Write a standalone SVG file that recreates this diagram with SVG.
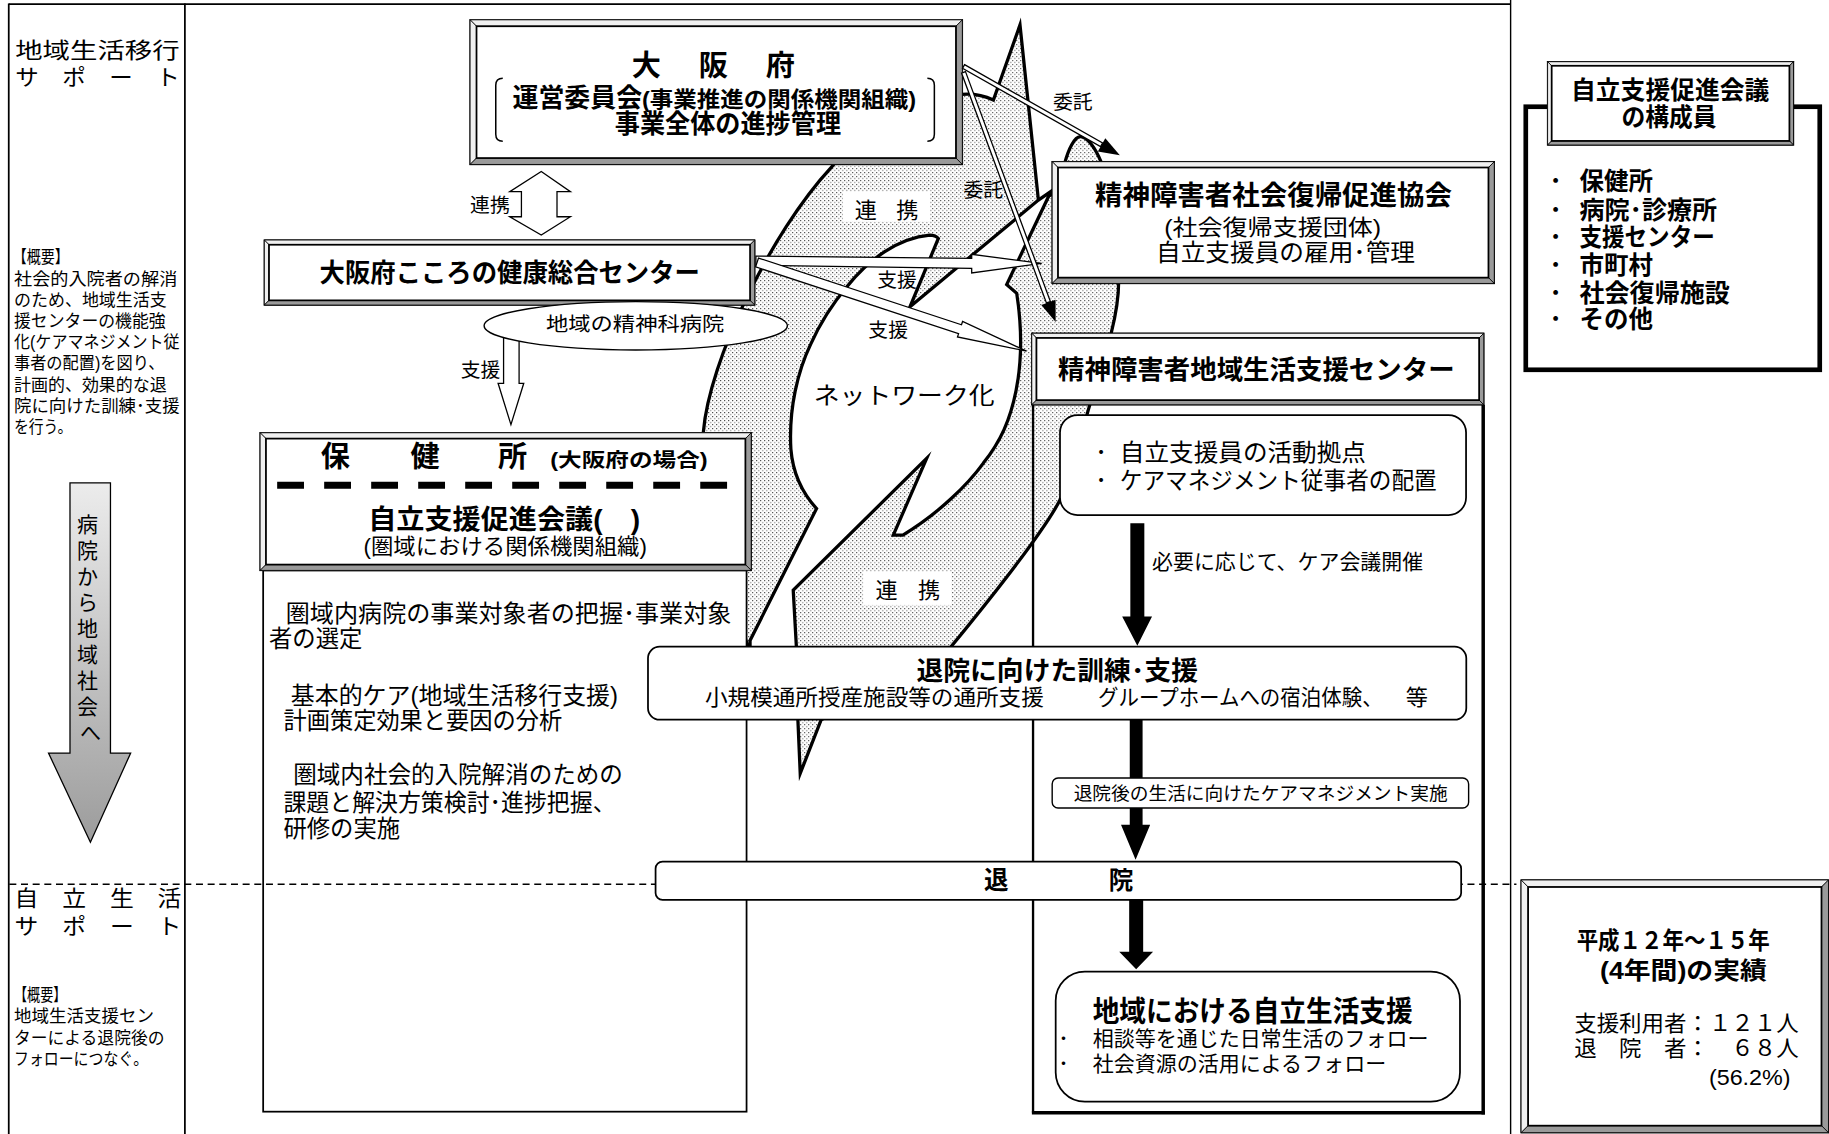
<svg xmlns="http://www.w3.org/2000/svg" width="1829" height="1134" viewBox="0 0 1829 1134">
<defs>
<style>
.t{font-family:"Liberation Sans","Noto Sans CJK JP",sans-serif;fill:#000}
.b{font-weight:bold}
.fr{stroke:#000;stroke-width:1.5;fill:none}
.bx{fill:#fff;stroke:#000;stroke-width:1.2}
.lt{fill:#f0f0f0;stroke:#000;stroke-width:0.7}
.dk{fill:#9a9a9a;stroke:#000;stroke-width:0.7}
.in{fill:#fff;stroke:#000;stroke-width:1.5}
.rb{fill:#fff;stroke:#000;stroke-width:1.5}
.ha{fill:#fff;stroke:#000;stroke-width:1.1}
.blk{fill:#000}
.net{stroke:#000;stroke-width:2.8;stroke-linejoin:miter;stroke-miterlimit:10}
</style>
<pattern id="dots" patternUnits="userSpaceOnUse" width="3.43" height="3.43">
<rect width="3.43" height="3.43" fill="#fff"/>
<rect x="0" y="0" width="0.86" height="0.86" fill="#333"/>
<rect x="1.715" y="1.715" width="0.86" height="0.86" fill="#333"/>
</pattern>
<linearGradient id="ag" x1="0" y1="0" x2="0" y2="1">
<stop offset="0" stop-color="#ececec"/>
<stop offset="1" stop-color="#9c9c9c"/>
</linearGradient>
</defs>
<rect width="1829" height="1134" fill="#fff"/>
<g transform="scale(1.1665)">

<g id="frame">
<line class="fr" x1="7.5" y1="3.5" x2="1295" y2="3.5"/>
<line class="fr" x1="7.5" y1="3" x2="7.5" y2="975"/>
<line class="fr" x1="158.5" y1="3" x2="158.5" y2="975"/>
<line class="fr" x1="1295" y1="0" x2="1295" y2="975" style="stroke-width:1.2"/>
</g>

<g id="left-column">
<text class="t" x="13" y="50" font-size="19" textLength="141" lengthAdjust="spacingAndGlyphs">地域生活移行</text>
<text class="t" x="13" y="72.5" font-size="19" textLength="141" lengthAdjust="spacingAndGlyphs">サ　ポ　ー　ト</text>
<text class="t" x="11" y="225.7" font-size="15" textLength="48" lengthAdjust="spacingAndGlyphs">【概要】</text>
<text class="t" x="12" y="243.9" font-size="15" textLength="140" lengthAdjust="spacingAndGlyphs">社会的入院者の解消</text>
<text class="t" x="12" y="262.1" font-size="15" textLength="131" lengthAdjust="spacingAndGlyphs">のため、地域生活支</text>
<text class="t" x="12" y="280.3" font-size="15" textLength="130" lengthAdjust="spacingAndGlyphs">援センターの機能強</text>
<text class="t" x="12" y="298.5" font-size="15" textLength="142" lengthAdjust="spacingAndGlyphs">化(ケアマネジメント従</text>
<text class="t" x="12" y="316.7" font-size="15" textLength="129" lengthAdjust="spacingAndGlyphs">事者の配置)を図り、</text>
<text class="t" x="12" y="334.9" font-size="15" textLength="131" lengthAdjust="spacingAndGlyphs">計画的、効果的な退</text>
<text class="t" x="12" y="353.1" font-size="15" textLength="142" lengthAdjust="spacingAndGlyphs">院に向けた訓練･支援</text>
<text class="t" x="12" y="371.3" font-size="15" textLength="50" lengthAdjust="spacingAndGlyphs">を行う。</text>
<polygon points="60,414 94.7,414 94.7,645.6 112,645.6 77.5,722 41.6,645.6 60,645.6" fill="url(#ag)" stroke="#000" stroke-width="1.1"/>
<text class="t" font-size="18" text-anchor="middle">
<tspan x="77.5" y="455.8">病</tspan>
<tspan x="77.5" y="478.1">院</tspan>
<tspan x="77.5" y="500.4">か</tspan>
<tspan x="77.5" y="522.7">ら</tspan>
<tspan x="77.5" y="545">地</tspan>
<tspan x="77.5" y="567.3">域</tspan>
<tspan x="77.5" y="589.6">社</tspan>
<tspan x="77.5" y="611.9">会</tspan>
<tspan x="77.5" y="634.2">へ</tspan>
</text>
<text class="t" x="12.5" y="777" font-size="19" textLength="143" lengthAdjust="spacingAndGlyphs">自　立　生　活</text>
<text class="t" x="12.5" y="801" font-size="19" textLength="143" lengthAdjust="spacingAndGlyphs">サ　ポ　ー　ト</text>
<text class="t" x="12" y="857.7" font-size="15" textLength="45" lengthAdjust="spacingAndGlyphs">【概要】</text>
<text class="t" x="12" y="876.2" font-size="15" textLength="120" lengthAdjust="spacingAndGlyphs">地域生活支援セン</text>
<text class="t" x="12" y="894.7" font-size="15" textLength="129" lengthAdjust="spacingAndGlyphs">ターによる退院後の</text>
<text class="t" x="12" y="913.2" font-size="15" textLength="115" lengthAdjust="spacingAndGlyphs">フォローにつなぐ。</text>
</g>

<g id="network">
<path class="net" fill="url(#dots)" d="M 740 110 L 824 81 Q 838 79.5 851.6 85.7 L 874.4 21.4 L 890.2 171.5 L 906 165 L 913 139 C 916 128 921 117.5 926 117.2 C 932 117 939 127 944 139 C 952 170 959 205 959 241 C 959 258 956 272 952.5 286 L 932.8 352 C 925 380 918 405 908.7 428.7 C 895 455 860 500 814 556 L 704 617 L 686 663 L 684 617 L 683 558 L 643 558 L 638 545 L 612 460 L 603 380 L 603 370 C 608 310 660 200 713 143 L 740 110 Z"/>
<path class="net" fill="#fff" d="M 726 245.8 C 745 222 770 204 797 201.5 Q 802 201.5 804.4 204.4 L 780.1 263 L 890.2 171.5 L 901 164 L 863 244 L 871.6 251.5 C 876 280 876 310 871 335 C 866 360 858 378 843 397 C 830 415 805 440 774 458.7 L 765.8 458.7 L 794.4 393 L 680 505.9 L 682.9 558 L 643 558 L 643 549 L 700 436 C 690 425 680 410 678 385 C 676 350 684 318 695 295 C 704 275 714 260 726 245.8 Z"/>
<rect x="722.7" y="164.3" width="74.6" height="25.7" fill="#fff"/>
<text class="t" font-size="19" text-anchor="middle"><tspan x="742.3" y="187">連</tspan><tspan x="777.9" y="187">携</tspan></text>
<rect x="740" y="490" width="75.8" height="28.6" fill="#fff"/>
<text class="t" font-size="19" text-anchor="middle"><tspan x="760" y="512.8">連</tspan><tspan x="796.5" y="512.8">携</tspan></text>
<text class="t" x="697.6" y="346" font-size="20" textLength="155" lengthAdjust="spacingAndGlyphs">ネットワーク化</text>
</g>

<g id="support-center-panel">
<line x1="885.6" y1="347" x2="885.6" y2="954" stroke="#000" stroke-width="2"/>
<line x1="1271.5" y1="347" x2="1271.5" y2="955.5" stroke="#000" stroke-width="3"/>
<line x1="884.6" y1="954" x2="1273" y2="954" stroke="#000" stroke-width="3"/>
</g>

<g id="osaka-pref">
<rect class="bx" x="403" y="17" width="422" height="124"/>
<polygon class="lt" points="403,17 825,17 819.5,22.5 408.5,22.5"/>
<polygon class="lt" points="403,17 408.5,22.5 408.5,135.5 403,141"/>
<polygon class="dk" points="825,17 825,141 819.5,135.5 819.5,22.5"/>
<polygon class="dk" points="403,141 825,141 819.5,135.5 408.5,135.5"/>
<rect class="in" x="408.5" y="22.5" width="411" height="113"/>
<text class="t b" font-size="25" text-anchor="middle"><tspan x="554" y="65.2">大</tspan><tspan x="611.6" y="65.2">阪</tspan><tspan x="669" y="65.2">府</tspan></text>
<text class="t b" x="439.4" y="91.4" font-size="22" textLength="111" lengthAdjust="spacingAndGlyphs">運営委員会</text>
<text class="t b" x="550.4" y="91.4" font-size="19" textLength="235" lengthAdjust="spacingAndGlyphs">(事業推進の関係機関組織)</text>
<text class="t b" x="527" y="114" font-size="22" textLength="194" lengthAdjust="spacingAndGlyphs">事業全体の進捗管理</text>
<path d="M 431 67 Q 425 67 425 73 L 425 115 Q 425 121 431 121" fill="none" stroke="#000" stroke-width="1.3"/>
<path d="M 795 67 Q 801 67 801 73 L 801 115 Q 801 121 795 121" fill="none" stroke="#000" stroke-width="1.3"/>
</g>

<g id="kokoro-center">
<rect class="bx" x="226.6" y="205.8" width="420.4" height="55.7"/>
<polygon class="lt" points="226.6,205.8 647,205.8 643,209.8 230.6,209.8"/>
<polygon class="lt" points="226.6,205.8 230.6,209.8 230.6,257.5 226.6,261.5"/>
<polygon class="dk" points="647,205.8 647,261.5 643,257.5 643,209.8"/>
<polygon class="dk" points="226.6,261.5 647,261.5 643,257.5 230.6,257.5"/>
<rect class="in" x="230.6" y="209.8" width="412.4" height="47.7"/>
<text class="t b" x="274" y="241.4" font-size="22" textLength="326" lengthAdjust="spacingAndGlyphs">大阪府こころの健康総合センター</text>
</g>

<g id="connectors">
<polygon class="ha" points="464,147 489,164.3 477.5,164.3 477.5,185.8 489,185.8 464,201.5 437,185.8 447,185.8 447,164.3 437,164.3"/>
<text class="t" x="403" y="182" font-size="17">連携</text>
<polygon class="ha" points="431.7,288 445,288 445,328.6 449,328.6 438,364 427,328.6 431.7,328.6"/>
<text class="t" x="395" y="323.5" font-size="17">支援</text>
<polygon class="ha" points="648,219.5 833,221.5 833,218 893,225.8 833,234 833,230 648,227.5"/>
<text class="t" x="752" y="246" font-size="17">支援</text>
<polygon class="ha" points="650.25,221.2 824.25,278.45 825.19,275.6 880,301 820.81,288.9 821.75,286.05 647.75,228.8"/>
<text class="t" x="744.4" y="289" font-size="17">支援</text>
<polygon class="ha" points="826.89,55.43 945.23,122.55 943.45,125.69 825.11,58.57"/>
<polygon class="blk" points="960,133 941.13,129.77 947.55,118.47"/>
<text class="t" x="902.6" y="93.2" font-size="17">委託</text>
<polygon class="ha" points="827.69,61.38 900.46,258.49 897.08,259.73 824.31,62.62"/>
<polygon class="blk" points="905,276 892.67,261.36 904.87,256.86"/>
<text class="t" x="826" y="169" font-size="17">委託</text>
<polygon class="blk" points="969,448.5 981,448.5 981,528.5 987.6,528.5 975,553.5 962,528.5 969,528.5"/>
<text class="t" x="987.6" y="488" font-size="18" textLength="232.4" lengthAdjust="spacingAndGlyphs">必要に応じて、ケア会議開催</text>
<polygon class="blk" points="968.5,617 979.5,617 979.5,707 986,707 973.5,737 961,707 968.5,707"/>
<polygon class="blk" points="968,771 980,771 980,816 988.5,816 974,831 959.5,816 968,816"/>
</g>

<g id="hospital-ellipse">
<ellipse cx="545" cy="279.3" rx="130" ry="20.7" fill="#fff" stroke="#000" stroke-width="1.2"/>
<text class="t" x="468" y="283.5" font-size="17" textLength="153" lengthAdjust="spacingAndGlyphs">地域の精神科病院</text>
</g>

<g id="hokenjo">
<rect class="rb" x="225.6" y="489" width="414.4" height="464"/>
<rect class="bx" x="223" y="371" width="421" height="118"/>
<polygon class="lt" points="223,371 644,371 639,376 228,376"/>
<polygon class="lt" points="223,371 228,376 228,484 223,489"/>
<polygon class="dk" points="644,371 644,489 639,484 639,376"/>
<polygon class="dk" points="223,489 644,489 639,484 228,484"/>
<rect class="in" x="228" y="376" width="411" height="108"/>
<text class="t b" font-size="25" text-anchor="middle"><tspan x="287.5" y="400.5">保</tspan><tspan x="364.5" y="400.5">健</tspan><tspan x="439.5" y="400.5">所</tspan></text>
<text class="t b" x="471.7" y="400.5" font-size="17" textLength="135" lengthAdjust="spacingAndGlyphs">(大阪府の場合)</text>
<line x1="237.6" y1="416" x2="623.3" y2="416" stroke="#000" stroke-width="6" stroke-dasharray="23 17.3"/>
<text class="t b" x="315.7" y="453.7" font-size="23" textLength="233" lengthAdjust="spacingAndGlyphs">自立支援促進会議(　)</text>
<text class="t" x="311.6" y="475" font-size="18.5" textLength="243" lengthAdjust="spacingAndGlyphs">(圏域における関係機関組織)</text>
<text class="t" x="245" y="533" font-size="20" textLength="382" lengthAdjust="spacingAndGlyphs">圏域内病院の事業対象者の把握･事業対象</text>
<text class="t" x="230.6" y="555" font-size="20">者の選定</text>
<text class="t" x="249.3" y="603.2" font-size="20" textLength="280.5" lengthAdjust="spacingAndGlyphs">基本的ケア(地域生活移行支援)</text>
<text class="t" x="243" y="625.3" font-size="20" textLength="239" lengthAdjust="spacingAndGlyphs">計画策定効果と要因の分析</text>
<text class="t" x="251.4" y="671.5" font-size="20" textLength="282.6" lengthAdjust="spacingAndGlyphs">圏域内社会的入院解消のための</text>
<text class="t" x="243" y="695.6" font-size="20" textLength="284.7" lengthAdjust="spacingAndGlyphs">課題と解決方策検討･進捗把握、</text>
<text class="t" x="243" y="717.6" font-size="20">研修の実施</text>
</g>

<g id="fukki-kyokai">
<rect class="bx" x="902" y="138.6" width="379" height="104.4"/>
<polygon class="lt" points="902,138.6 1281,138.6 1276,143.6 907,143.6"/>
<polygon class="lt" points="902,138.6 907,143.6 907,238 902,243"/>
<polygon class="dk" points="1281,138.6 1281,243 1276,238 1276,143.6"/>
<polygon class="dk" points="902,243 1281,243 1276,238 907,238"/>
<rect class="in" x="907" y="143.6" width="369" height="94.4"/>
<text class="t b" x="938.7" y="176" font-size="23" textLength="306" lengthAdjust="spacingAndGlyphs">精神障害者社会復帰促進協会</text>
<text class="t" x="998" y="201.5" font-size="19" textLength="186" lengthAdjust="spacingAndGlyphs">(社会復帰支援団体)</text>
<text class="t" x="991" y="223.5" font-size="20" textLength="222" lengthAdjust="spacingAndGlyphs">自立支援員の雇用･管理</text>
</g>

<g id="support-center">
<rect class="bx" x="884.5" y="285.7" width="387.5" height="61.3"/>
<polygon class="lt" points="884.5,285.7 1272,285.7 1268,289.7 888.5,289.7"/>
<polygon class="lt" points="884.5,285.7 888.5,289.7 888.5,343 884.5,347"/>
<polygon class="dk" points="1272,285.7 1272,347 1268,343 1268,289.7"/>
<polygon class="dk" points="884.5,347 1272,347 1268,343 888.5,343"/>
<rect class="in" x="888.5" y="289.7" width="379.5" height="53.3"/>
<text class="t b" x="907" y="324.5" font-size="22.5" textLength="340" lengthAdjust="spacingAndGlyphs">精神障害者地域生活支援センター</text>
</g>

<g id="center-roles">
<rect class="rb" x="908.7" y="355.8" width="348.1" height="85.7" rx="15"/>
<text class="t" font-size="20" text-anchor="middle"><tspan x="944" y="395">･</tspan><tspan x="944" y="419.5">･</tspan></text>
<text class="t" x="960" y="395" font-size="20" textLength="211" lengthAdjust="spacingAndGlyphs">自立支援員の活動拠点</text>
<text class="t" x="960" y="419.5" font-size="20" textLength="271.6" lengthAdjust="spacingAndGlyphs">ケアマネジメント従事者の配置</text>
</g>

<line x1="8" y1="758" x2="1300" y2="758" stroke="#000" stroke-width="1.2" stroke-dasharray="6 4"/>

<g id="training">
<rect class="rb" x="555.5" y="554.4" width="701.5" height="62.6" rx="10"/>
<text class="t b" x="785.6" y="583" font-size="22" textLength="241.4" lengthAdjust="spacingAndGlyphs">退院に向けた訓練･支援</text>
<text class="t" x="604.4" y="604" font-size="19" textLength="290.4" lengthAdjust="spacingAndGlyphs">小規模通所授産施設等の通所支援</text>
<text class="t" x="941.3" y="604" font-size="19" textLength="244" lengthAdjust="spacingAndGlyphs">グループホームへの宿泊体験、</text>
<text class="t" x="1205" y="604" font-size="19">等</text>
</g>

<g id="care-management">
<rect x="902" y="667" width="357" height="25.7" rx="5" fill="#fff" stroke="#000" stroke-width="1.2"/>
<text class="t" x="920.4" y="686" font-size="16" textLength="320.6" lengthAdjust="spacingAndGlyphs">退院後の生活に向けたケアマネジメント実施</text>
</g>

<g id="discharge">
<rect class="rb" x="562" y="738.7" width="690.6" height="32.8" rx="6"/>
<text class="t b" font-size="21" text-anchor="middle"><tspan x="854" y="762">退</tspan><tspan x="961" y="762">院</tspan></text>
</g>

<g id="community-life">
<rect class="rb" x="905" y="833" width="346.6" height="111.4" rx="25"/>
<text class="t b" x="936.7" y="876.5" font-size="25" textLength="274.3" lengthAdjust="spacingAndGlyphs">地域における自立生活支援</text>
<text class="t" font-size="18" text-anchor="middle"><tspan x="911.7" y="897">･</tspan><tspan x="911.7" y="918.5">･</tspan></text>
<text class="t" x="936.7" y="897" font-size="18" textLength="288" lengthAdjust="spacingAndGlyphs">相談等を通じた日常生活のフォロー</text>
<text class="t" x="936.7" y="918.5" font-size="18" textLength="251.6" lengthAdjust="spacingAndGlyphs">社会資源の活用によるフォロー</text>
</g>

<g id="members">
<rect x="1308" y="91.5" width="252" height="225.5" fill="#fff" stroke="#000" stroke-width="4"/>
<rect class="bx" x="1326.7" y="52.9" width="210.8" height="71.4"/>
<polygon class="lt" points="1326.7,52.9 1537.5,52.9 1534,56.4 1330.2,56.4"/>
<polygon class="lt" points="1326.7,52.9 1330.2,56.4 1330.2,120.8 1326.7,124.3"/>
<polygon class="dk" points="1537.5,52.9 1537.5,124.3 1534,120.8 1534,56.4"/>
<polygon class="dk" points="1326.7,124.3 1537.5,124.3 1534,120.8 1330.2,120.8"/>
<rect class="in" x="1330.2" y="56.4" width="203.8" height="64.4"/>
<text class="t b" x="1346.8" y="85" font-size="21" textLength="170" lengthAdjust="spacingAndGlyphs">自立支援促進会議</text>
<text class="t b" x="1390" y="108" font-size="21" textLength="81.6" lengthAdjust="spacingAndGlyphs">の構成員</text>
<text class="t b" font-size="21" text-anchor="middle">
<tspan x="1333.5" y="163.3">･</tspan><tspan x="1333.5" y="187.5">･</tspan><tspan x="1333.5" y="210.5">･</tspan><tspan x="1333.5" y="234.5">･</tspan><tspan x="1333.5" y="259">･</tspan><tspan x="1333.5" y="281.5">･</tspan>
</text>
<text class="t b" x="1354" y="163.3" font-size="21">保健所</text>
<text class="t b" x="1354" y="187.5" font-size="21" textLength="118" lengthAdjust="spacingAndGlyphs">病院･診療所</text>
<text class="t b" x="1354" y="210.5" font-size="21" textLength="116" lengthAdjust="spacingAndGlyphs">支援センター</text>
<text class="t b" x="1354" y="234.5" font-size="21">市町村</text>
<text class="t b" x="1354" y="259" font-size="21" textLength="129" lengthAdjust="spacingAndGlyphs">社会復帰施設</text>
<text class="t b" x="1354" y="281.5" font-size="21">その他</text>
</g>

<g id="results">
<rect class="bx" x="1304" y="754.4" width="263.5" height="216.6"/>
<polygon class="lt" points="1304,754.4 1567.5,754.4 1561.5,760.4 1310,760.4"/>
<polygon class="lt" points="1304,754.4 1310,760.4 1310,965 1304,971"/>
<polygon class="dk" points="1567.5,754.4 1567.5,971 1561.5,965 1561.5,760.4"/>
<polygon class="dk" points="1304,971 1567.5,971 1561.5,965 1310,965"/>
<rect class="in" x="1310" y="760.4" width="251.5" height="204.6"/>
<text class="t b" x="1351.6" y="813.5" font-size="20" textLength="165.6" lengthAdjust="spacingAndGlyphs">平成１２年～１５年</text>
<text class="t b" x="1371.6" y="839" font-size="20" textLength="143" lengthAdjust="spacingAndGlyphs">(4年間)の実績</text>
<text class="t" x="1349.5" y="884" font-size="19" textLength="192.5" lengthAdjust="spacingAndGlyphs">支援利用者：１２１人</text>
<text class="t" x="1349.5" y="905.6" font-size="19" textLength="192.5" lengthAdjust="spacingAndGlyphs">退　院　者：　６８人</text>
<text class="t" x="1465" y="930" font-size="19" textLength="70" lengthAdjust="spacingAndGlyphs">(56.2%)</text>
</g>

</g>
</svg>
